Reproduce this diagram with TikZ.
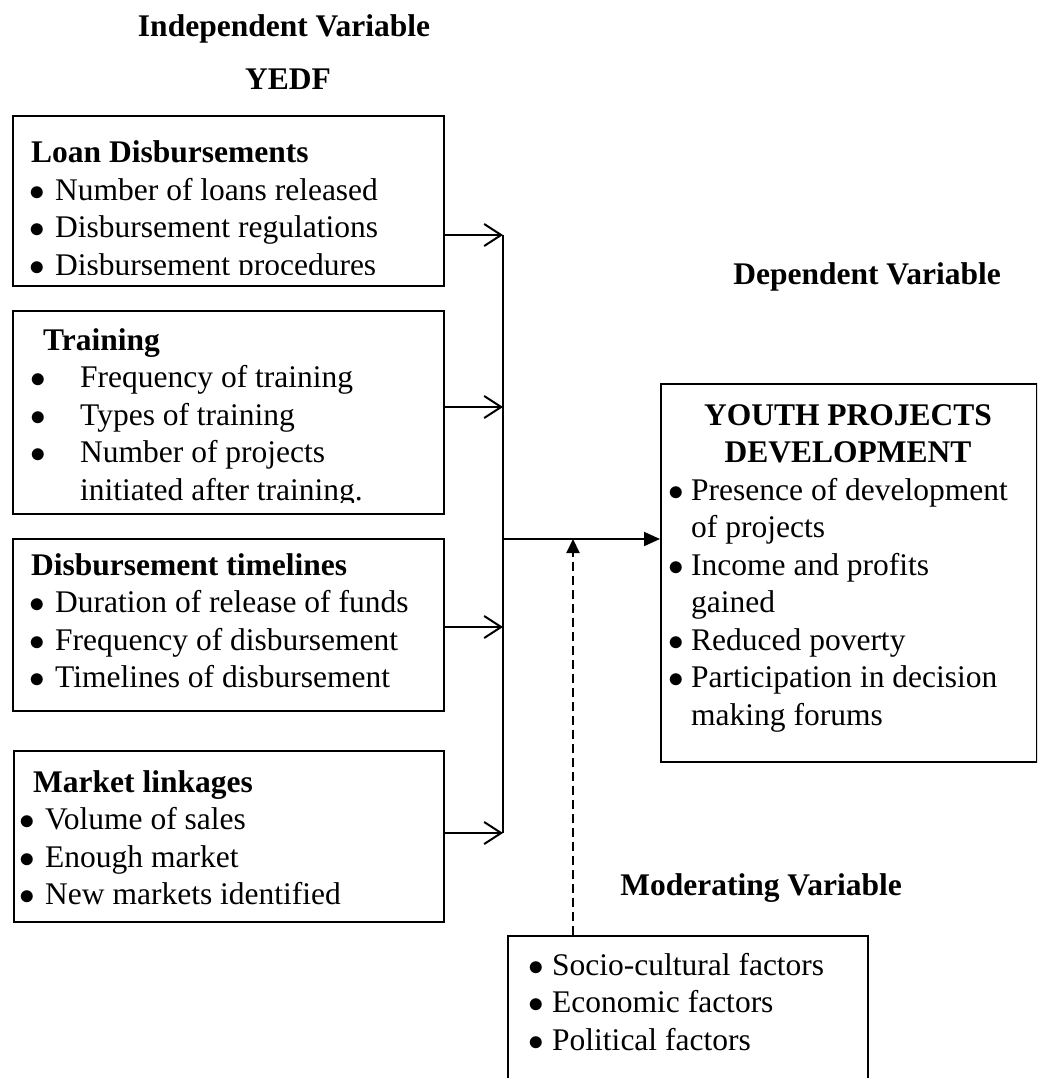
\documentclass[tikz,border=0pt]{standalone}
\usepackage{fontspec}
\setmainfont{Liberation Serif}
\usetikzlibrary{arrows.meta}
\newcommand\bl[1]{\makebox[#1][l]{\hspace{-2pt}\scalebox{1.25}{$\bullet$}}}
\begin{document}
\begin{tikzpicture}[x=1pt,y=-1pt,
  frame/.style={draw, line width=1.6pt, rectangle, inner sep=0pt, anchor=north west},
  txt/.style={inner sep=0pt, anchor=base west, font=\fontsize{31.5}{37.5}\selectfont},
  head/.style={inner sep=0pt, anchor=base, font=\fontsize{31.5}{37.5}\selectfont\bfseries},
  conn/.style={line width=2pt},
  openarr/.style={conn, -{Straight Barb[length=17pt,width=22pt,line width=2pt]}},
  mainarr/.style={conn, -{Triangle[length=16pt,width=14pt]}},
  dasharr/.style={conn, dash pattern=on 9pt off 5pt, -{Triangle[length=14pt,width=13pt]}}
]
\useasboundingbox (0,0) rectangle (1037,1078);
\clip (0,0) rectangle (1037,1078);

% headings
\node[head] (hind) at (284,37) {Independent Variable};
\node[head] (hyedf) at (288,90) {YEDF};
\node[head] (hdep) at (867,284) {Dependent Variable};
\node[head] (hmod) at (761,895) {Moderating Variable};

% box 1
\node[frame, minimum width=431pt, minimum height=170pt] (b1) at (12,115) {};
\begin{scope}
\clip (12,115) rectangle (443,274);
\node[txt] (t1) at (31,163) {\begin{tabular}[t]{@{}l@{}}
\textbf{Loan Disbursements}\\
\bl{24pt}Number of loans released\\
\bl{24pt}Disbursement regulations\\
\bl{24pt}Disbursement procedures
\end{tabular}};
\end{scope}

% box 2
\node[frame, minimum width=431pt, minimum height=203pt] (b2) at (12,310) {};
\begin{scope}
\clip (12,310) rectangle (443,502);
\node[txt] (t2) at (32,350) {\begin{tabular}[t]{@{}l@{}}
\hspace{11pt}\textbf{Training}\\
\bl{48pt}Frequency of training\\
\bl{48pt}Types of training\\
\bl{48pt}Number of projects\\
\hspace{48pt}initiated after training.
\end{tabular}};
\end{scope}

% box 3
\node[frame, minimum width=431pt, minimum height=172pt] (b3) at (12,538) {};
\node[txt] (t3) at (31,575) {\begin{tabular}[t]{@{}l@{}}
\textbf{Disbursement timelines}\\
\bl{24pt}Duration of release of funds\\
\bl{24pt}Frequency of disbursement\\
\bl{24pt}Timelines of disbursement
\end{tabular}};

% box 4
\node[frame, minimum width=430pt, minimum height=171pt] (b4) at (13,750) {};
\node[txt] (t4) at (21,792) {\begin{tabular}[t]{@{}l@{}}
\hspace{12pt}\textbf{Market linkages}\\
\bl{24pt}Volume of sales\\
\bl{24pt}Enough market\\
\bl{24pt}New markets identified
\end{tabular}};

% result box
\node[frame, minimum width=376pt, minimum height=378pt] (res) at (660,383) {};
\node[head] (rtitle) at (848,425) {\begin{tabular}[t]{@{}c@{}}
YOUTH PROJECTS\\ DEVELOPMENT
\end{tabular}};
\node[txt] (rtxt) at (670,500) {\begin{tabular}[t]{@{}l@{}}
\bl{21pt}Presence of development\\
\hspace{21pt}of projects\\
\bl{21pt}Income and profits\\
\hspace{21pt}gained\\
\bl{21pt}Reduced poverty\\
\bl{21pt}Participation in decision\\
\hspace{21pt}making forums
\end{tabular}};

% moderating box (runs off the bottom)
\node[frame, minimum width=360pt, minimum height=200pt] (mod) at (507,935) {};
\node[txt] (mtxt) at (530,975) {\begin{tabular}[t]{@{}l@{}}
\bl{22pt}Socio-cultural factors\\
\bl{22pt}Economic factors\\
\bl{22pt}Political factors
\end{tabular}};

% connectors
\coordinate (bt) at (503,235);
\coordinate (j2) at (503,407);
\coordinate (j3) at (503,627);
\coordinate (bb) at (503,833);
\coordinate (jm) at (503,539);
\coordinate (jd) at (573,539);

\draw[conn] (bt) -- (bb);
\draw[openarr] (b1.east |- bt) -- (bt);
\draw[openarr] (b2.east |- j2) -- (j2);
\draw[openarr] (b3.east |- j3) -- (j3);
\draw[openarr] (b4.east |- bb) -- (bb);
\draw[mainarr] (jm) -- (jm -| res.west);
\draw[dasharr] (mod.north -| jd) -- (jd);
\end{tikzpicture}
\end{document}
